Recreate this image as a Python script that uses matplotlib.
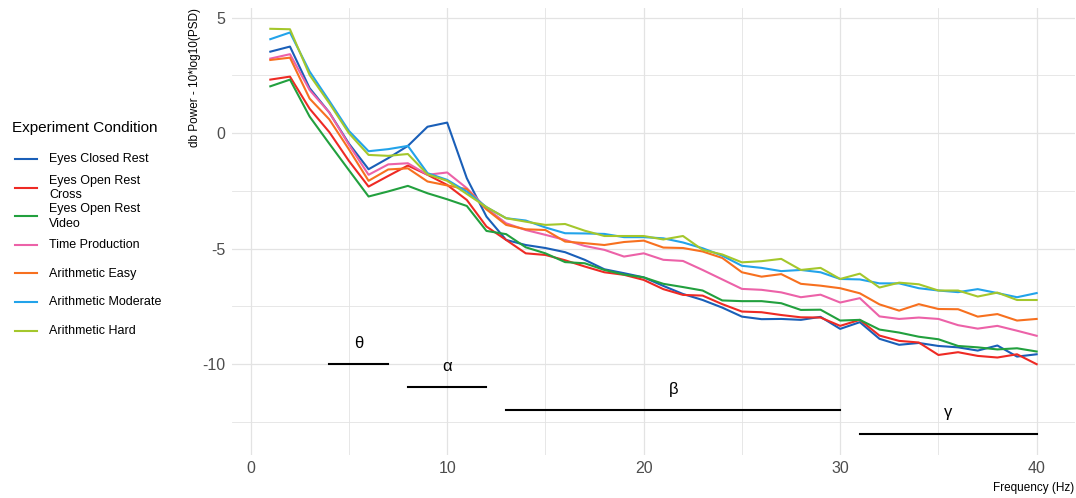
import numpy as np
import matplotlib
matplotlib.use("Agg")
import matplotlib.pyplot as plt
from matplotlib.lines import Line2D

plt.rcParams['font.family'] = ['Liberation Sans', 'DejaVu Sans']

# ---- data ----
freq = list(range(1, 41))

eyes_closed = [3.53, 3.75, 1.95, 0.9, -0.45, -1.56, -1.08, -0.55, 0.28, 0.46,
               -1.95, -3.61, -4.62, -4.84, -4.97, -5.15, -5.48, -5.89, -6.06, -6.24,
               -6.61, -6.96, -7.22, -7.55, -7.94, -8.05, -8.04, -8.08, -7.95, -8.47,
               -8.18, -8.9, -9.16, -9.08, -9.21, -9.27, -9.41, -9.19, -9.67, -9.57]
eyes_open_cross = [2.32, 2.45, 1.06, 0.05, -1.2, -2.31, -1.85, -1.4, -1.8, -2.24,
                   -2.89, -4.04, -4.62, -5.2, -5.27, -5.5, -5.77, -6.02, -6.13, -6.35,
                   -6.75, -7.0, -7.03, -7.4, -7.72, -7.75, -7.87, -7.97, -7.98, -8.34,
                   -8.08, -8.76, -8.99, -9.06, -9.6, -9.48, -9.64, -9.71, -9.57, -10.0]
eyes_open_video = [2.03, 2.32, 0.72, -0.45, -1.6, -2.74, -2.52, -2.28, -2.6, -2.86,
                   -3.15, -4.23, -4.37, -4.94, -5.2, -5.58, -5.63, -5.92, -6.12, -6.24,
                   -6.52, -6.66, -6.81, -7.24, -7.27, -7.27, -7.36, -7.65, -7.64, -8.11,
                   -8.08, -8.5, -8.63, -8.81, -8.92, -9.21, -9.27, -9.36, -9.31, -9.45]
time_production = [3.23, 3.42, 1.87, 0.9, -0.5, -1.8, -1.35, -1.3, -1.8, -1.7,
                   -2.38, -3.25, -3.9, -4.19, -4.4, -4.62, -4.88, -5.05, -5.34, -5.2,
                   -5.48, -5.53, -5.92, -6.33, -6.74, -6.78, -6.89, -7.1, -6.99, -7.33,
                   -7.14, -7.93, -8.04, -7.98, -8.04, -8.31, -8.46, -8.34, -8.55, -8.77]
arith_easy = [3.17, 3.27, 1.5, 0.6, -0.7, -2.06, -1.57, -1.52, -2.09, -2.26,
              -2.42, -3.3, -3.97, -4.16, -4.19, -4.69, -4.76, -4.84, -4.71, -4.65,
              -4.95, -4.97, -5.12, -5.4, -6.02, -6.21, -6.1, -6.52, -6.6, -6.71,
              -6.93, -7.41, -7.68, -7.4, -7.61, -7.62, -7.94, -7.83, -8.11, -8.04]
arith_moderate = [4.07, 4.36, 2.67, 1.4, 0.1, -0.78, -0.69, -0.55, -1.73, -2.02,
                  -2.53, -3.2, -3.68, -3.78, -4.08, -4.33, -4.34, -4.36, -4.5, -4.5,
                  -4.55, -4.73, -4.98, -5.3, -5.74, -5.83, -5.97, -5.92, -6.02, -6.31,
                  -6.33, -6.5, -6.5, -6.71, -6.81, -6.88, -6.75, -6.92, -7.1, -6.92]
arith_hard = [4.52, 4.5, 2.52, 1.3, 0.0, -0.94, -0.98, -0.9, -1.78, -2.06,
              -2.63, -3.2, -3.68, -3.83, -3.97, -3.93, -4.22, -4.45, -4.45, -4.45,
              -4.6, -4.45, -5.05, -5.25, -5.59, -5.54, -5.44, -5.92, -5.83, -6.31,
              -6.08, -6.68, -6.47, -6.54, -6.81, -6.81, -7.07, -6.9, -7.22, -7.22]

conditions = ["Eyes Closed Rest", "Eyes Open Rest\nCross", "Eyes Open Rest\nVideo",
              "Time Production", "Arithmetic Easy", "Arithmetic Moderate", "Arithmetic Hard"]
series = [eyes_closed, eyes_open_cross, eyes_open_video, time_production,
          arith_easy, arith_moderate, arith_hard]
colors = ["#1a5fb8", "#ee2a24", "#22a03e", "#ec62a8", "#f7701f", "#22a3ea", "#a4c72c"]

# frequency bands: name, start, end, level
band_names = ["θ", "α", "β", "γ"]
band_start = [4, 8, 13, 31]
band_end = [7, 12, 30, 40]
band_level = [-10, -11, -12, -13]

# ---- figure ----
fig = plt.figure(figsize=(10.76, 4.98), dpi=100)
ax = fig.add_axes([232 / 1076, 1 - 455 / 498, 843 / 1076, 447 / 498])

grid_col = "#e3e3e3"
for v in [0, 10, 20, 30, 40]:
    ax.axvline(v, color=grid_col, lw=0.9, zorder=0)
for v in [5, 15, 25, 35]:
    ax.axvline(v, color=grid_col, lw=0.6, zorder=0)
for v in [5, 0, -5, -10]:
    ax.axhline(v, color=grid_col, lw=0.9, zorder=0)
for v in [2.5, -2.5, -7.5, -12.5]:
    ax.axhline(v, color=grid_col, lw=0.6, zorder=0)

for vals, col in zip(series, colors):
    ax.plot(freq, vals, color=col, lw=1.5, zorder=3)

for name, s, e, lvl in zip(band_names, band_start, band_end, band_level):
    ax.plot([s, e], [lvl, lvl], color="black", lw=1.5, zorder=2)
    ax.text((s + e) / 2, lvl + 0.9, name, ha="center", va="center", fontsize=12)

ax.set_xlim(-0.95, 41.95)
ax.set_ylim(-13.93, 5.42)
ax.set_xticks([0, 10, 20, 30, 40])
ax.set_yticks([5, 0, -5, -10])
ax.set_yticklabels(["5", "0", "-5", "-10"])
ax.tick_params(length=0, labelsize=11.5, labelcolor="#4d4d4d")
ax.tick_params(axis="x", pad=4.5)
ax.tick_params(axis="y", pad=5)
for sp in ax.spines.values():
    sp.set_visible(False)

fig.text(1074 / 1076, 1 - 488 / 498, "Frequency (Hz)", ha="right", va="center", fontsize=8.5)
fig.text(195 / 1076, 1 - 8 / 498, "db Power - 10*log10(PSD)", rotation=90,
         ha="center", va="top", fontsize=8.5)

# ---- legend (drawn by hand, ggplot style) ----
fig.text(12 / 1076, 1 - 128 / 498, "Experiment Condition", ha="left", va="center", fontsize=11)
y0 = 159.3
step = 28.55
for i, (lab, col) in enumerate(zip(conditions, colors)):
    yy = 1 - (y0 + i * step) / 498
    fig.add_artist(Line2D([15 / 1076, 37 / 1076], [yy, yy], color=col, lw=1.5))
    fig.text(49 / 1076, yy, lab, ha="left", va="center", fontsize=9, linespacing=1.25)

fig.savefig("out.png", dpi=100)
